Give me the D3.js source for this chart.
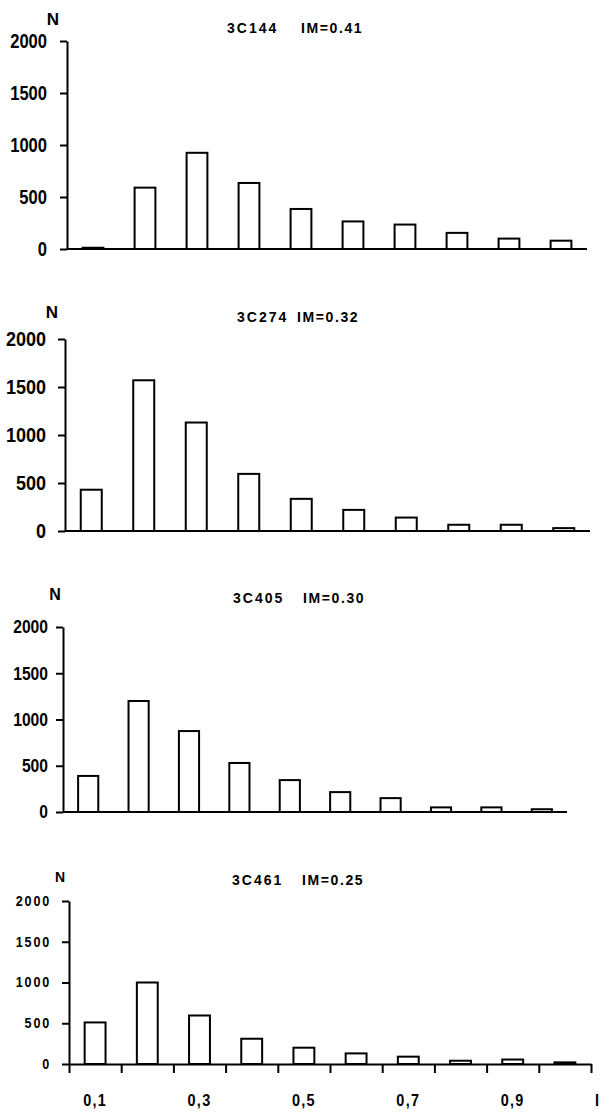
<!DOCTYPE html>
<html>
<head>
<meta charset="utf-8">
<script src="https://cdn.jsdelivr.net/npm/d3@7"></script>
<style>
  html, body { margin: 0; padding: 0; background: #fff; }
  svg { display: block; }
  text { fill: #000; font-weight: bold; font-family: "Liberation Sans", Arial, sans-serif; }
</style>
</head>
<body>
<svg id="chart" width="599" height="1113"></svg>
<script>
// ---- data ----
const bins = ["0,1","0,2","0,3","0,4","0,5","0,6","0,7","0,8","0,9","1,0"];
const xTickLabels = ["0,1","0,3","0,5","0,7","0,9"];
const xAxisLabel = "I";
const yAxisLabel = "N";
const yTicks = [0, 500, 1000, 1500, 2000];

const sources = ["3C144", "3C274", "3C405", "3C461"];
const imValues = ["IM=0.41", "IM=0.32", "IM=0.30", "IM=0.25"];

const values3C144 = [12, 590, 925, 635, 385, 265, 235, 155, 100, 80];
const values3C274 = [430, 1570, 1130, 595, 335, 220, 140, 65, 65, 30];
const values3C405 = [390, 1200, 875, 530, 345, 215, 150, 50, 50, 30];
const values3C461 = [510, 1000, 595, 310, 200, 130, 90, 40, 55, 20];
const seriesValues = [values3C144, values3C274, values3C405, values3C461];

// ---- layout (positions/styles) ----
const layout = [
  {x0: 67, x1: 587, y0: 249, yTop: 41,  labOff: 20, tickFs: 19.5, tickSx: 0.85, tickLs: 0,   nX: 53, nY: 25,  nFs: 17, tY: 33,  tA: 227, tB: 301, xAxis: false},
  {x0: 65, x1: 590, y0: 531, yTop: 339, labOff: 19, tickFs: 20,   tickSx: 0.9,  tickLs: 0,   nX: 52, nY: 318, nFs: 17, tY: 322, tA: 237, tB: 297, xAxis: false},
  {x0: 63, x1: 567, y0: 812, yTop: 627, labOff: 15, tickFs: 18,   tickSx: 0.87, tickLs: 0,   nX: 55, nY: 600, nFs: 16, tY: 603, tA: 233, tB: 303, xAxis: false},
  {x0: 69, x1: 591, y0: 1064, yTop: 901, labOff: 16, tickFs: 14,  tickSx: 0.9,  tickLs: 2,   nX: 60, nY: 882, nFs: 14, tY: 885, tA: 232, tB: 302, xAxis: true}
];

const svg = d3.select("#chart");

seriesValues.forEach((vals, i) => {
  const L = layout[i];
  const g = svg.append("g");

  const x = d3.scaleBand().domain(bins).range([L.x0, L.x1])
    .paddingInner(0.6).paddingOuter(0.3);
  const y = d3.scaleLinear().domain([0, 2000]).range([L.y0, L.yTop]);

  // bars
  g.selectAll("rect.bar").data(vals).join("rect")
    .attr("class", "bar")
    .attr("x", (d, j) => x(bins[j]))
    .attr("y", d => y(d))
    .attr("width", x.bandwidth())
    .attr("height", d => y(0) - y(d))
    .attr("fill", "#fff")
    .attr("stroke", "#000")
    .attr("stroke-width", 2);

  // y axis
  const yAxis = d3.axisLeft(y).tickValues(yTicks).tickSizeInner(7).tickSizeOuter(0)
    .tickPadding(L.labOff - 7).tickFormat(d3.format("d"));
  const ya = g.append("g").attr("transform", `translate(${L.x0},0)`).call(yAxis);
  ya.attr("font-family", null).attr("font-size", null);
  ya.select(".domain").attr("stroke", "#000").attr("stroke-width", 2);
  ya.selectAll(".tick line").attr("stroke", "#000").attr("stroke-width", 2);
  ya.selectAll(".tick text")
    .attr("x", -(L.labOff + L.tickLs) / L.tickSx)
    .attr("transform", `scale(${L.tickSx},1)`)
    .style("font-size", L.tickFs + "px")
    .style("letter-spacing", L.tickLs + "px")
    .attr("fill", "#000");

  // x axis line
  if (L.xAxis) {
    const xb = d3.scaleLinear().domain([0, bins.length]).range([L.x0, L.x1]);
    const xAxis = d3.axisBottom(xb).ticks(bins.length).tickSizeInner(9).tickSizeOuter(0).tickFormat("");
    const xa = g.append("g").attr("transform", `translate(0,${L.y0})`).call(xAxis);
    xa.select(".domain").attr("stroke", "#000").attr("stroke-width", 2);
    xa.selectAll(".tick line").attr("stroke", "#000").attr("stroke-width", 2);
    g.selectAll("text.xlab").data(xTickLabels).join("text")
      .attr("class", "xlab")
      .attr("transform", d => `translate(${x(d) + x.bandwidth() / 2},${L.y0 + 42}) scale(0.85,1)`)
      .attr("text-anchor", "middle")
      .style("font-size", "17px")
      .style("letter-spacing", "1.5px")
      .text(d => d);
    g.append("text")
      .attr("transform", `translate(${L.x1 + 6},${L.y0 + 42}) scale(0.85,1)`)
      .attr("text-anchor", "middle")
      .style("font-size", "17px")
      .text(xAxisLabel);
  } else {
    g.append("line")
      .attr("x1", L.x0).attr("x2", L.x1)
      .attr("y1", y(0)).attr("y2", y(0))
      .attr("stroke", "#000").attr("stroke-width", 2);
  }

  // N label
  g.append("text")
    .attr("x", L.nX).attr("y", L.nY)
    .attr("text-anchor", "middle")
    .style("font-size", L.nFs + "px")
    .text(yAxisLabel);

  // title
  g.append("text")
    .attr("x", L.tA).attr("y", L.tY)
    .style("font-size", "14px")
    .style("letter-spacing", "2px")
    .text(sources[i]);
  g.append("text")
    .attr("x", L.tB).attr("y", L.tY)
    .style("font-size", "14px")
    .style("letter-spacing", "1.6px")
    .text(imValues[i]);
});
</script>
</body>
</html>
